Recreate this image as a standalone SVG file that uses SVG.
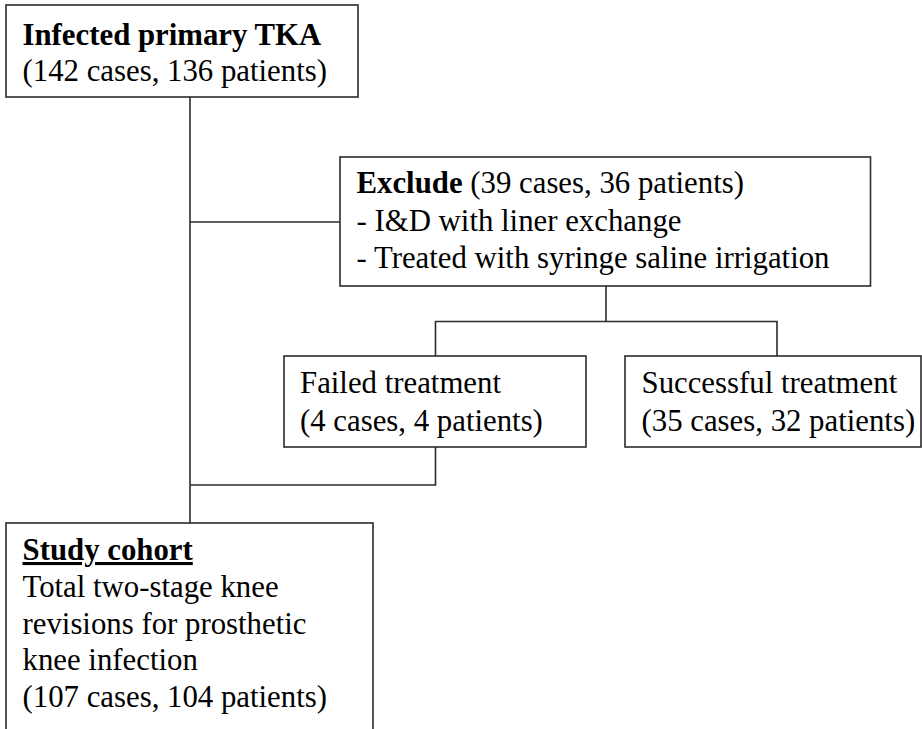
<svg xmlns="http://www.w3.org/2000/svg" width="922" height="729" viewBox="0 0 922 729">
<style>
.box{fill:#fff;stroke:#2b2b2b;stroke-width:1.6}
.ln{fill:none;stroke:#2b2b2b;stroke-width:1.6}
.t{font-family:'Liberation Serif','Times New Roman',Times,'DejaVu Serif',serif;font-size:30.8px;fill:#000}
.b{font-weight:bold}
</style>
<rect width="922" height="729" fill="#fff"/>
<g id="connectors">
<path class="ln" d="M190,97 V523"/>
<path class="ln" d="M190,222 H340"/>
<path class="ln" d="M606,286 V321.5"/>
<path class="ln" d="M435.5,356 V321.5 H777 V356"/>
<path class="ln" d="M435.5,447 V485 H190"/>
</g>
<g id="n1" class="t" font-family="'Liberation Serif', 'Times New Roman', serif">
<rect class="box" x="6" y="5" width="352" height="92"/>
<text x="22.5" y="45" class="b">Infected primary TKA</text>
<text x="22.5" y="81">(142 cases, 136 patients)</text>
</g>
<g id="n2" class="t" font-family="'Liberation Serif', 'Times New Roman', serif">
<rect class="box" x="340" y="157" width="530.5" height="129"/>
<text x="356.5" y="193"><tspan class="b">Exclude</tspan> (39 cases, 36 patients)</text>
<text x="356.5" y="230.5">- I&amp;D with liner exchange</text>
<text x="356.5" y="268">- Treated with syringe saline irrigation</text>
</g>
<g id="n3" class="t" font-family="'Liberation Serif', 'Times New Roman', serif">
<rect class="box" x="284" y="356" width="302" height="91"/>
<text x="300" y="393">Failed treatment</text>
<text x="300" y="431">(4 cases, 4 patients)</text>
</g>
<g id="n4" class="t" font-family="'Liberation Serif', 'Times New Roman', serif">
<rect class="box" x="625" y="356" width="296" height="91"/>
<text x="641.5" y="393">Successful treatment</text>
<text x="641.5" y="431">(35 cases, 32 patients)</text>
</g>
<g id="n5" class="t" font-family="'Liberation Serif', 'Times New Roman', serif">
<rect class="box" x="6" y="523" width="367" height="215"/>
<text x="22.5" y="560" class="b" text-decoration="underline">Study cohort</text>
<text x="22.5" y="597">Total two-stage knee</text>
<text x="22.5" y="633.5">revisions for prosthetic</text>
<text x="22.5" y="670">knee infection</text>
<text x="22.5" y="707">(107 cases, 104 patients)</text>
</g>
</svg>
